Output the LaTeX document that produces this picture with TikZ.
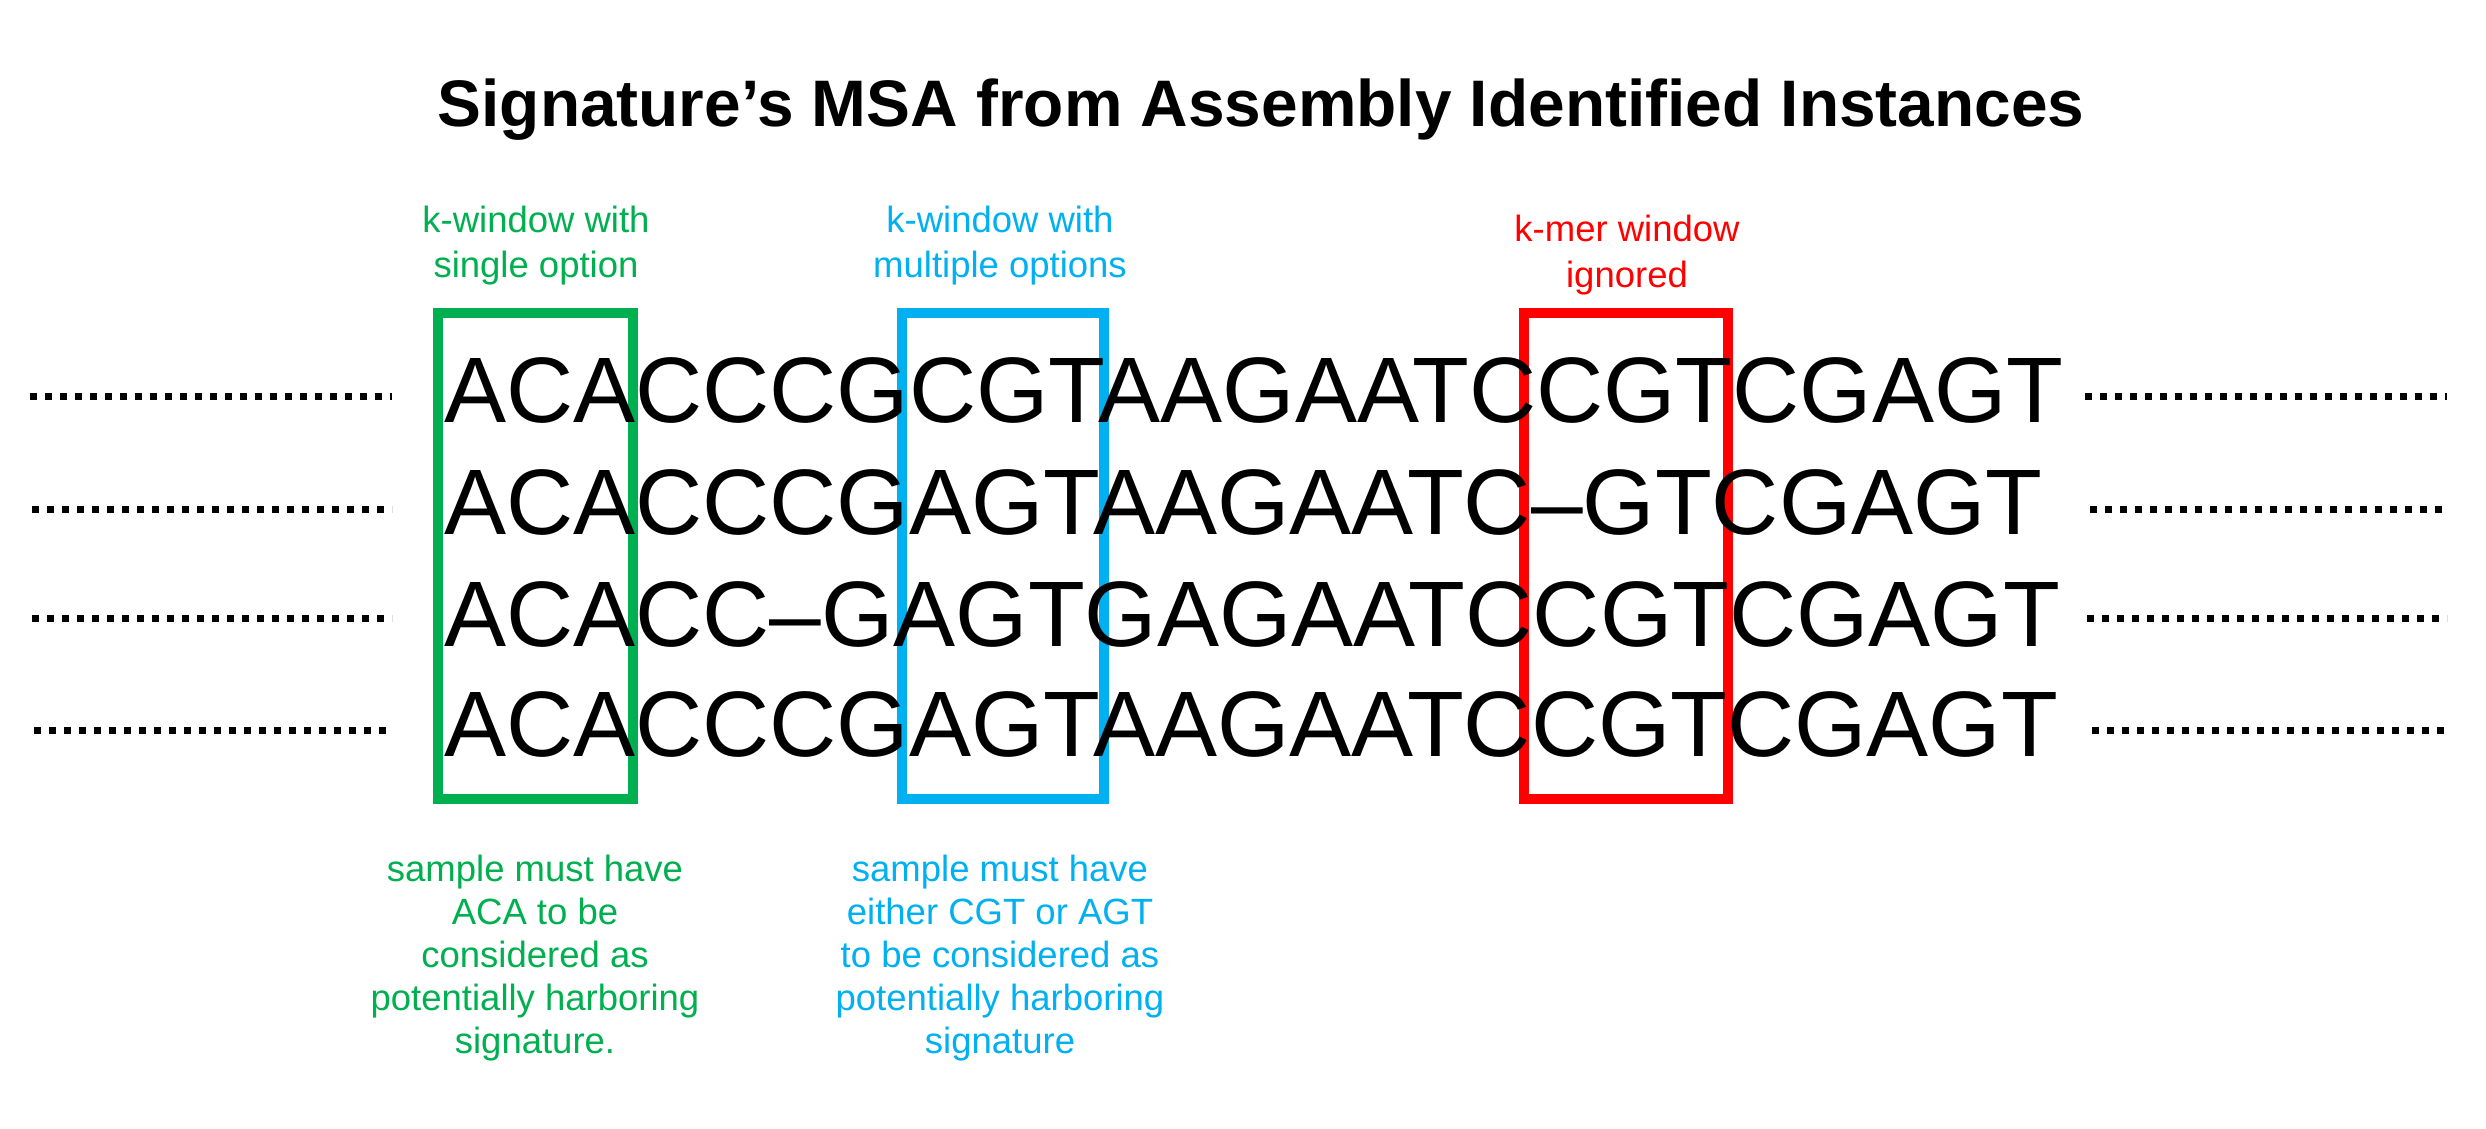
\documentclass[tikz,border=0pt]{standalone}
\usepackage{fontspec}
\setmainfont{Liberation Sans}
\definecolor{kgreen}{HTML}{00B050}
\definecolor{kblue}{HTML}{00B0F0}
\definecolor{kred}{HTML}{FF0000}
\tikzset{
  seqrow/.style={inner sep=0pt, anchor=base west, font=\fontsize{93}{100}\selectfont},
  lbl/.style={inner sep=0pt, anchor=base, font=\fontsize{36.5}{44}\selectfont},
  titletext/.style={inner sep=0pt, anchor=base, font=\bfseries\fontsize{65.8}{78}\selectfont},
  winbox/.style={line width=10pt},
  dotline/.style={line width=7pt, dash pattern=on 7pt off 8pt}
}
\begin{document}
\begin{tikzpicture}[x=1pt,y=-1pt]
\useasboundingbox[fill=white] (0,0) rectangle (2486,1129);

\node[titletext] (title) at (1261,127) {Signature’s MSA from Assembly Identified Instances};

% window boxes
\draw[winbox, kgreen] (438,313) rectangle (633,799);
\draw[winbox, kblue] (902,313) rectangle (1104,799);
\draw[winbox, kred] (1524,313) rectangle (1728,799);

% sequences
\node[seqrow] (row1) at (444,422) {ACACCCGCGTAAGAATCCGTCGAGT};
\node[seqrow] (row2) at (444,534) {ACACCCGAGTAAGAATC–GTCGAGT};
\node[seqrow] (row3) at (444,646) {ACACC–GAGTGAGAATCCGTCGAGT};
\node[seqrow] (row4) at (444,756) {ACACCCGAGTAAGAATCCGTCGAGT};

% dotted continuations
\draw[dotline] (30,396) -- (392,396);
\draw[dotline] (32,509) -- (392,509);
\draw[dotline] (32,618) -- (392,618);
\draw[dotline] (34,730) -- (392,730);
\draw[dotline] (2085,396) -- (2447,396);
\draw[dotline] (2090,509) -- (2447,509);
\draw[dotline] (2087,618) -- (2447,618);
\draw[dotline] (2092,730) -- (2447,730);

% top labels
\foreach \t [count=\i] in {k-window with, single option}
  \node[lbl, text=kgreen] (gtop\i) at (536,{232+(\i-1)*45}) {\t};
\foreach \t [count=\i] in {k-window with, multiple options}
  \node[lbl, text=kblue] (btop\i) at (1000,{232+(\i-1)*45}) {\t};
\foreach \t [count=\i] in {k-mer window, ignored}
  \node[lbl, text=kred] (rtop\i) at (1627,{241+(\i-1)*46}) {\t};

% bottom labels
\foreach \t [count=\i] in {sample must have, ACA to be, considered as, potentially harboring, signature.}
  \node[lbl, text=kgreen] (gbot\i) at (535,{881+(\i-1)*43}) {\t};
\foreach \t [count=\i] in {sample must have, either CGT or AGT, to be considered as, potentially harboring, signature}
  \node[lbl, text=kblue] (bbot\i) at (1000,{881+(\i-1)*43}) {\t};
\end{tikzpicture}
\end{document}
